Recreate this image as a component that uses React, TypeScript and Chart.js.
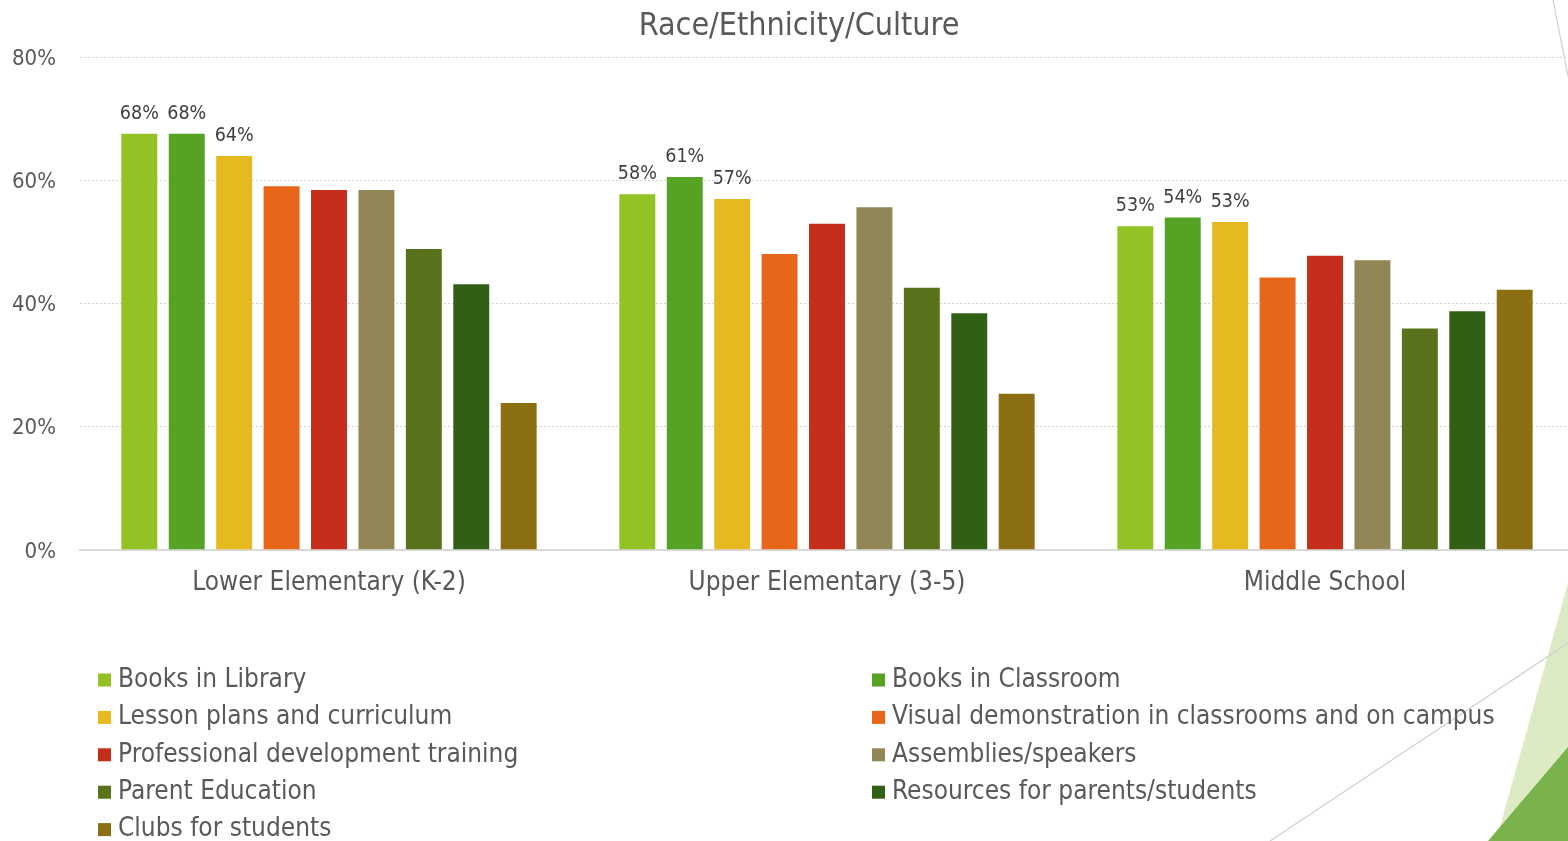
import React, { useEffect, useRef } from "react";
import { Chart, registerables } from "chart.js";

Chart.register(...registerables);

const chartTitle = "Race/Ethnicity/Culture";
const categories = ["Lower Elementary (K-2)", "Upper Elementary (3-5)", "Middle School"];

const booksInLibrary = [67.7, 57.9, 52.7];
const booksInClassroom = [67.7, 60.7, 54.1];
const lessonPlans = [64.1, 57.1, 53.4];
const visualDemonstration = [59.2, 48.2, 44.4];
const professionalDevelopment = [58.6, 53.1, 47.9];
const assembliesSpeakers = [58.6, 55.8, 47.2];
const parentEducation = [49.0, 42.7, 36.1];
const resourcesParentsStudents = [43.3, 38.6, 38.9];
const clubsForStudents = [24.0, 25.5, 42.4];

const seriesNames = [
  "Books in Library",
  "Books in Classroom",
  "Lesson plans and curriculum",
  "Visual demonstration in classrooms and on campus",
  "Professional development training",
  "Assemblies/speakers",
  "Parent Education",
  "Resources for parents/students",
  "Clubs for students",
];
const seriesValues = [
  booksInLibrary,
  booksInClassroom,
  lessonPlans,
  visualDemonstration,
  professionalDevelopment,
  assembliesSpeakers,
  parentEducation,
  resourcesParentsStudents,
  clubsForStudents,
];
const seriesColors = [
  "#93C225",
  "#55A224",
  "#E6B920",
  "#E8661A",
  "#C42E1B",
  "#918656",
  "#58731B",
  "#325F16",
  "#8C6F12",
];
const labeledSeriesCount = 3;
const yMin = 0;
const yMax = 80;
const yStep = 20;

const FONT = '"DejaVu Sans Condensed", "DejaVu Sans", sans-serif';
const TEXT = "#595959";

const titlePlugin = {
  id: "slideTitle",
  afterDraw(chart: any) {
    const ctx = chart.ctx;
    ctx.save();
    ctx.font = `32px ${FONT}`;
    ctx.fillStyle = TEXT;
    ctx.textAlign = "center";
    ctx.textBaseline = "middle";
    ctx.fillText(chartTitle, 799, 27);
    ctx.restore();
  },
};

const dataLabelPlugin = {
  id: "barValueLabels",
  afterDatasetsDraw(chart: any) {
    const ctx = chart.ctx;
    ctx.save();
    ctx.font = `19.5px ${FONT}`;
    ctx.fillStyle = "#404040";
    ctx.textAlign = "center";
    ctx.textBaseline = "alphabetic";
    for (let d = 0; d < labeledSeriesCount; d++) {
      const meta = chart.getDatasetMeta(d);
      meta.data.forEach((bar: any, i: number) => {
        const v = chart.data.datasets[d].data[i];
        ctx.fillText(`${Math.round(v)}%`, bar.x, bar.y - 14);
      });
    }
    ctx.restore();
  },
};

const legendPlugin = {
  id: "twoColumnLegend",
  afterDraw(chart: any) {
    const ctx = chart.ctx;
    ctx.save();
    ctx.font = `26px ${FONT}`;
    ctx.textBaseline = "middle";
    ctx.textAlign = "left";
    const colX = [98, 872];
    const rowY0 = 680;
    const rowStep = 37.4;
    chart.data.datasets.forEach((ds: any, i: number) => {
      const col = i % 2;
      const row = Math.floor(i / 2);
      const x = colX[col];
      const y = rowY0 + row * rowStep;
      ctx.fillStyle = ds.backgroundColor;
      ctx.fillRect(x, y - 6.5, 13, 13);
      ctx.fillStyle = TEXT;
      ctx.fillText(ds.label, x + 20, y);
    });
    ctx.restore();
  },
};

export default function App() {
  const canvasRef = useRef<HTMLCanvasElement | null>(null);

  useEffect(() => {
    document.body.style.overflow = "hidden";
    const canvas = canvasRef.current;
    if (!canvas) return;
    const chart = new Chart(canvas, {
      type: "bar",
      data: {
        labels: categories,
        datasets: seriesNames.map((name, i) => ({
          label: name,
          data: seriesValues[i],
          backgroundColor: seriesColors[i],
          borderColor: "rgba(255,255,255,0.35)",
          borderWidth: 1,
          categoryPercentage: 0.857,
          barPercentage: 0.8,
        })),
      },
      options: {
        responsive: false,
        animation: false,
        layout: { padding: { top: 57, right: 6, left: 0, bottom: 0 } },
        plugins: {
          legend: { display: false },
          title: { display: false },
          tooltip: { enabled: false },
        },
        scales: {
          x: {
            grid: { display: false, drawTicks: false },
            border: { display: true, color: "#D9D9D9", width: 2 },
            ticks: {
              color: TEXT,
              font: { family: FONT, size: 26 },
              padding: 18,
              maxRotation: 0,
            },
            afterFit(scale: any) {
              scale.height = 291;
            },
          },
          y: {
            min: yMin,
            max: yMax,
            grid: { color: "#D0D0D0", lineWidth: 1, drawTicks: false },
            border: { display: false, dash: [2, 2] },
            ticks: {
              stepSize: yStep,
              color: TEXT,
              font: { family: FONT, size: 22 },
              padding: 24,
              labelOffset: 2,
              callback: (v: any) => `${v}%`,
            },
            afterFit(scale: any) {
              scale.width = 80;
            },
          },
        },
      },
      plugins: [titlePlugin, dataLabelPlugin, legendPlugin],
    });
    return () => chart.destroy();
  }, []);

  return (
    <div
      style={{
        position: "fixed",
        left: 0,
        top: 0,
        width: 1568,
        height: 841,
        overflow: "hidden",
        background: "#FFFFFF",
      }}
    >
      <svg
        width={1568}
        height={841}
        style={{ position: "absolute", left: 0, top: 0 }}
      >
        <line x1={1553} y1={0} x2={1568} y2={76} stroke="#D0D0D0" strokeWidth={1.2} />
        <polygon points="1496,841 1568,583 1568,841" fill="#DDEBC4" />
        <polygon points="1488,841 1568,747 1568,841" fill="#7AB34C" />
        <line x1={1270} y1={841} x2={1568} y2={643} stroke="#D0D0D0" strokeWidth={1.2} />
      </svg>
      <canvas
        ref={canvasRef}
        width={1580}
        height={841}
        style={{ position: "absolute", left: 0, top: 0, width: 1580, height: 841 }}
      />
    </div>
  );
}
